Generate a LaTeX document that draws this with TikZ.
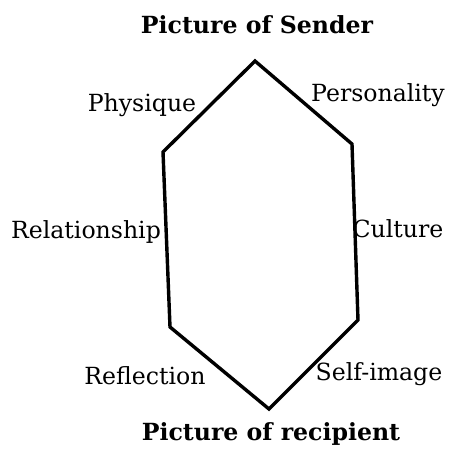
\documentclass[tikz,border=0pt]{standalone}
\usepackage{fontspec}
\setmainfont{DejaVu Serif}
\usetikzlibrary{positioning}

\begin{document}
\begin{tikzpicture}[
    x=0.5pt, y=-0.5pt,
    lbl/.style={anchor=base, inner sep=0pt, font=\fontsize{11.8}{14}\selectfont},
    ttl/.style={anchor=base, inner sep=0pt, font=\fontsize{11.8}{14}\selectfont\bfseries},
    edge/.style={line width=1.7pt, line join=miter},
]
\useasboundingbox (0,0) rectangle (456,457);

% --- Hexagon corners ---
\coordinate (top) at (255, 61);
\coordinate (ul) at (163, 152);
\coordinate (ur) at (352, 144);
\coordinate (ll) at (170, 327);
\coordinate (lr) at (358, 320);
\coordinate (bot) at (269, 409);

\draw[edge] (top) -- (ur) -- (lr) -- (bot) -- (ll) -- (ul) -- cycle;

% --- Titles ---
\node[ttl] (sender) at (257, 33) {Picture of Sender};
\node[ttl] (recipient) at (271, 440) {Picture of recipient};

% --- Side labels ---
\node[lbl] (physique) at (142, 111) {Physique};
\node[lbl] (personality) at (378, 101) {Personality};
\node[lbl] (relationship) at (86, 238) {Relationship};
\node[lbl] (culture) at (398, 237) {Culture};
\node[lbl] (reflection) at (145, 384) {Reflection};
\node[lbl] (selfimage) at (379, 380) {Self-image};

\end{tikzpicture}
\end{document}
